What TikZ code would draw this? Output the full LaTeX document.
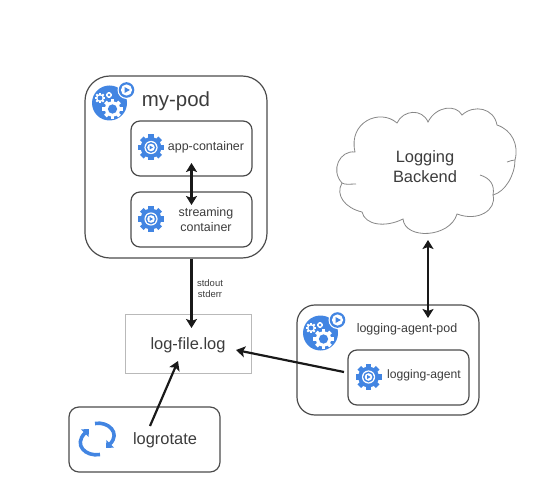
\documentclass[tikz,border=0pt]{standalone}
\usepackage{fontspec}
\setmainfont{Liberation Sans}
\usetikzlibrary{arrows.meta,positioning}
\definecolor{kubeBlue}{RGB}{66,133,226}
\definecolor{boxG}{RGB}{75,75,75}
\definecolor{cloudG}{RGB}{135,135,135}
\definecolor{fileG}{RGB}{185,185,185}
\definecolor{txtG}{RGB}{60,60,60}

\begin{document}
\begin{tikzpicture}[x=1bp,y=-1bp,font=\rmfamily,text=txtG]
  \tikzset{
    podbox/.style={draw=boxG,line width=1.2pt,rounded corners=#1,inner sep=0pt},
    lbl/.style={font=\fontsize{#1}{#1}\selectfont,align=center,inner sep=0pt},
    arr/.style={line width=2.2pt,black!90,-{Stealth[length=9bp,width=11bp,inset=2bp]}},
    twoarr/.style={line width=2.2pt,black!90,{Stealth[length=9bp,width=11bp,inset=2bp]}-{Stealth[length=9bp,width=11bp,inset=2bp]}},
    rotarr/.style={kubeBlue,line width=3.6pt,-{Triangle[length=6bp,width=10.5bp]}},
    gearicon/.pic={
      \fill[kubeBlue] (0,0) circle[radius=10.4];
      \foreach \a in {0,45,...,315}
        \fill[kubeBlue,rotate=\a] (-2.6,-13) rectangle (2.6,-8);
      \fill[white] (0,0) circle[radius=6.6];
      \fill[kubeBlue] (0,0) circle[radius=5.4];
      \fill[white] (0,0) circle[radius=3.8];
      \fill[kubeBlue] (-1.3,-2) -- (2.1,0) -- (-1.3,2) -- cycle;
    },
    smallgear/.pic={
      \fill[white] (0,0) circle[radius=#1];
      \foreach \a in {0,45,...,315}
        \fill[white,rotate=\a] (-0.25*#1,-1.3*#1) rectangle (0.25*#1,-0.8*#1);
      \fill[kubeBlue] (0,0) circle[radius=0.6*#1];
    },
    podicon/.pic={
      \fill[kubeBlue] (0,0) circle[radius=17.5];
      \fill[white] (17,-13) circle[radius=9];
      \fill[kubeBlue] (17,-13) circle[radius=7.8];
      \fill[white] (17,-13) circle[radius=5.6];
      \fill[kubeBlue] (15,-16) -- (20.4,-13) -- (15,-10) -- cycle;
      \pic at (3,6) {smallgear=7.7};
      \pic at (-9.5,-5) {smallgear=4};
      \pic at (-0.5,-8) {smallgear=2.3};
    }
  }
  \useasboundingbox (0,0) rectangle (559,503);
  % pod on the left
  \node[podbox=25,minimum width=182bp,minimum height=182bp] (mypod) at (176,167) {};
  \node[podbox=9,minimum width=121bp,minimum height=55bp] (appbox) at (191.5,148.5) {};
  \node[podbox=9,minimum width=121bp,minimum height=55bp] (streambox) at (191.5,219.5) {};
  \pic at (109.5,103) {podicon};
  \pic at (151,147.5) {gearicon};
  \pic at (151,219) {gearicon};
  \node[lbl=20.5] (mypodtxt) at (176,101) {my-pod};
  \node[lbl=12.5] (apptxt) at (206,147.5) {app-container};
  \node[lbl=12.5] (streamtxt) at (206,219.5) {streaming\\[2.5bp]container};
  % log file and logrotate
  \node[draw=fileG,line width=.9pt,minimum width=126bp,minimum height=59bp,inner sep=0pt] (logfile) at (188,343.5) {};
  \node[lbl=16.5] (logfiletxt) at (188,345) {log-file.log};
  \node[lbl=9.5] (stdtxt) at (210,288.5) {stdout\\[1.5bp]stderr};
  \node[podbox=10,minimum width=151bp,minimum height=65bp] (rotbox) at (144.5,439.5) {};
  \node[lbl=16.5] (rottxt) at (165,440) {logrotate};
  \draw[rotarr] (95,423.5) .. controls (108,421) and (121,433) .. (106,448);
  \draw[rotarr] (100,454.5) .. controls (86,457) and (73,445) .. (89,429);
  % agent pod
  \node[podbox=18,minimum width=182bp,minimum height=110bp] (agentpod) at (388,360) {};
  \node[podbox=9,minimum width=121bp,minimum height=55bp] (agentbox) at (408.5,377.5) {};
  \pic at (320.5,333) {podicon};
  \pic at (368.5,377) {gearicon};
  \node[lbl=12.5] (agentpodtxt) at (407,329) {logging-agent-pod};
  \node[lbl=12.2] (agenttxt) at (424,375.5) {logging-agent};
  % cloud
  \draw[cloudG,line width=.8pt,fill=white]
    (355,152) .. controls (348,122) and (380,108) .. (397,123)
    .. controls (403,110) and (422,108) .. (428,122)
    .. controls (436,106) and (456,104) .. (462,115)
    .. controls (474,104) and (494,108) .. (497,125)
    .. controls (512,130) and (519,145) .. (515,160)
    .. controls (515,175) and (505,192) .. (493,195)
    .. controls (497,210) and (478,222) .. (457,214)
    .. controls (450,238) and (405,240) .. (403,219)
    .. controls (385,228) and (365,225) .. (362,212)
    .. controls (345,208) and (335,195) .. (342,183)
    .. controls (330,170) and (340,150) .. (355,152) -- cycle;
  \draw[cloudG,line width=.8pt] (342,183) .. controls (345,185) and (350,184) .. (356,184);
  \draw[cloudG,line width=.8pt] (493,195) .. controls (495,185) and (490,178) .. (480,175);
  \draw[cloudG,line width=.8pt] (515,160) .. controls (513,160) and (510,161) .. (507,162);
  \node[lbl=16.5] (backend) at (425,167) {Logging\\[3.5bp]Backend};
  % connectors
  \coordinate (append) at (191.5,163);
  \coordinate (streamend) at (191.5,205);
  \coordinate (cloudend) at (428,240);
  \coordinate (podend) at (428,318);
  \coordinate (agentend) at (344,372);
  \coordinate (fileright) at (236,350);
  \coordinate (rotstart) at (150,426);
  \coordinate (filelow) at (178,361);
  \coordinate (filetop) at (191.5,328);
  \draw[twoarr] (append) -- (streamend);
  \draw[twoarr] (cloudend) -- (podend);
  \draw[arr] (mypod.south -| filetop) -- (filetop);
  \draw[arr] (agentend) -- (fileright);
  \draw[arr] (rotstart) -- (filelow);
\end{tikzpicture}
\end{document}
